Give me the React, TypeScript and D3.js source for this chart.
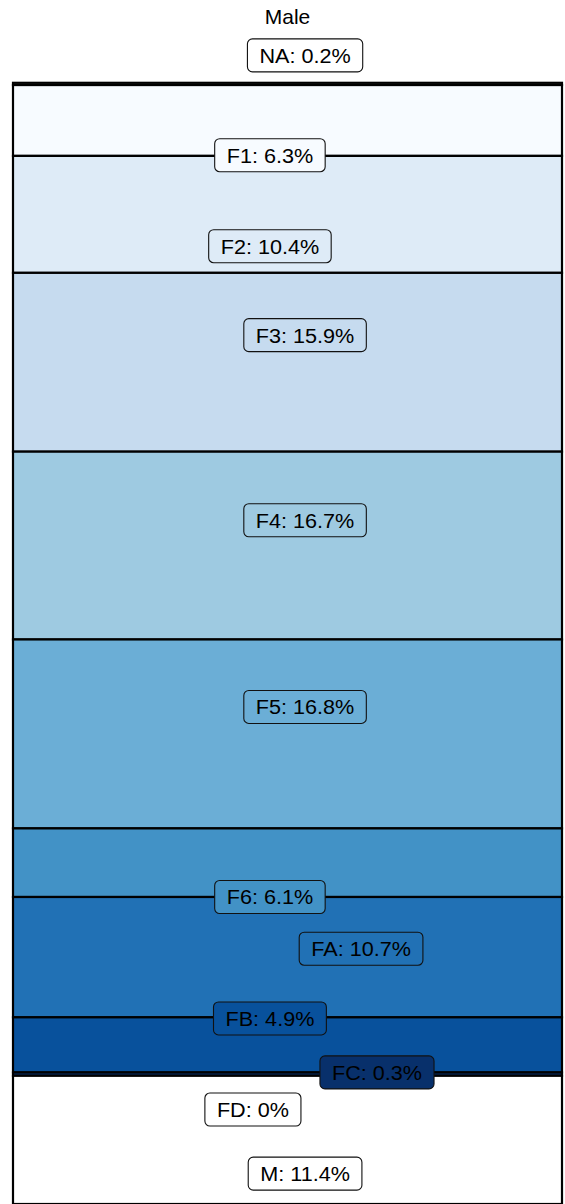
import React, { useEffect, useRef } from "react";
import * as d3 from "d3";

const groups = ["Male"];
const categories = ["NA", "F1", "F2", "F3", "F4", "F5", "F6", "FA", "FB", "FC", "FD", "M"];
const percents = [0.2, 6.3, 10.4, 15.9, 16.7, 16.8, 6.1, 10.7, 4.9, 0.3, 0, 11.4];
const fills = ["#ffffff", "#f7fbff", "#deebf7", "#c6dbef", "#9ecae1", "#6baed6", "#4292c6", "#2171b5", "#08519c", "#08306b", "#ffffff", "#ffffff"];
// repelled label anchors: y in percent units, x as shift in fraction of bar width
const labelY = [-2.44, 6.44, 14.53, 22.44, 38.9, 55.5, 72.4, 77.0, 83.2, 88.0, 91.3, 97.0];
const labelDx = [0.032, -0.032, -0.032, 0.032, 0.032, 0.032, -0.032, 0.134, -0.032, 0.163, -0.063, 0.032];

const W = 565;
const H = 1204;

export default function App() {
  const ref = useRef<SVGSVGElement | null>(null);
  useEffect(() => {
    const svg = d3.select(ref.current);
    svg.selectAll("*").remove();
    const total = d3.sum(percents);
    const y = d3.scaleLinear().domain([0, total]).range([82.8, 1204]);
    const x = d3.scaleBand().domain(groups).range([13, 562]).padding(0);
    const starts = d3.cumsum([0, ...percents]);
    const data = categories.map((c, i) => ({
      c,
      v: percents[i],
      y0: starts[i],
      y1: starts[i] + percents[i],
      fill: fills[i],
      ly: labelY[i],
      dx: labelDx[i],
    }));

    const g = svg.append("g");
    g.selectAll("rect.seg")
      .data(data)
      .join("rect")
      .attr("class", "seg")
      .attr("x", x("Male")!)
      .attr("width", x.bandwidth())
      .attr("y", (d) => y(d.y0))
      .attr("height", (d) => y(d.y1) - y(d.y0))
      .attr("fill", (d) => d.fill)
      .attr("stroke", "#000")
      .attr("stroke-width", 2.2);

    svg
      .append("text")
      .attr("transform", `translate(${x("Male")! + x.bandwidth() / 2},23.5) scale(1.05,1)`)
      .attr("text-anchor", "middle")
      .attr("font-family", "Liberation Sans, Arial, sans-serif")
      .attr("font-size", 20)
      .attr("fill", "#000")
      .text("Male");

    const cx = x("Male")! + x.bandwidth() / 2;
    const lg = svg.append("g");
    data.forEach((d) => {
      const px = cx + d.dx * x.bandwidth();
      const py = y(d.ly);
      const gg = lg.append("g");
      const rect = gg.append("rect");
      const t = gg
        .append("text")
        .attr("transform", `translate(${px},${py + 7.5}) scale(1.03,1)`)
        .attr("text-anchor", "middle")
        .attr("font-family", "Liberation Sans, Arial, sans-serif")
        .attr("font-size", 21)
        .attr("fill", "#000")
        .text(`${d.c}: ${d.v}%`);
      const tw = (t.node() as SVGTextElement).getComputedTextLength() * 1.03;
      const bw = tw + 24;
      const bh = 33;
      rect
        .attr("x", px - bw / 2)
        .attr("y", py - bh / 2)
        .attr("width", bw)
        .attr("height", bh)
        .attr("rx", 5)
        .attr("fill", d.fill)
        .attr("stroke", "#111")
        .attr("stroke-width", 1.1);
    });
  }, []);
  return <svg ref={ref} width={W} height={H} style={{ display: "block", position: "absolute", left: 0, top: 0 }} />;
}
